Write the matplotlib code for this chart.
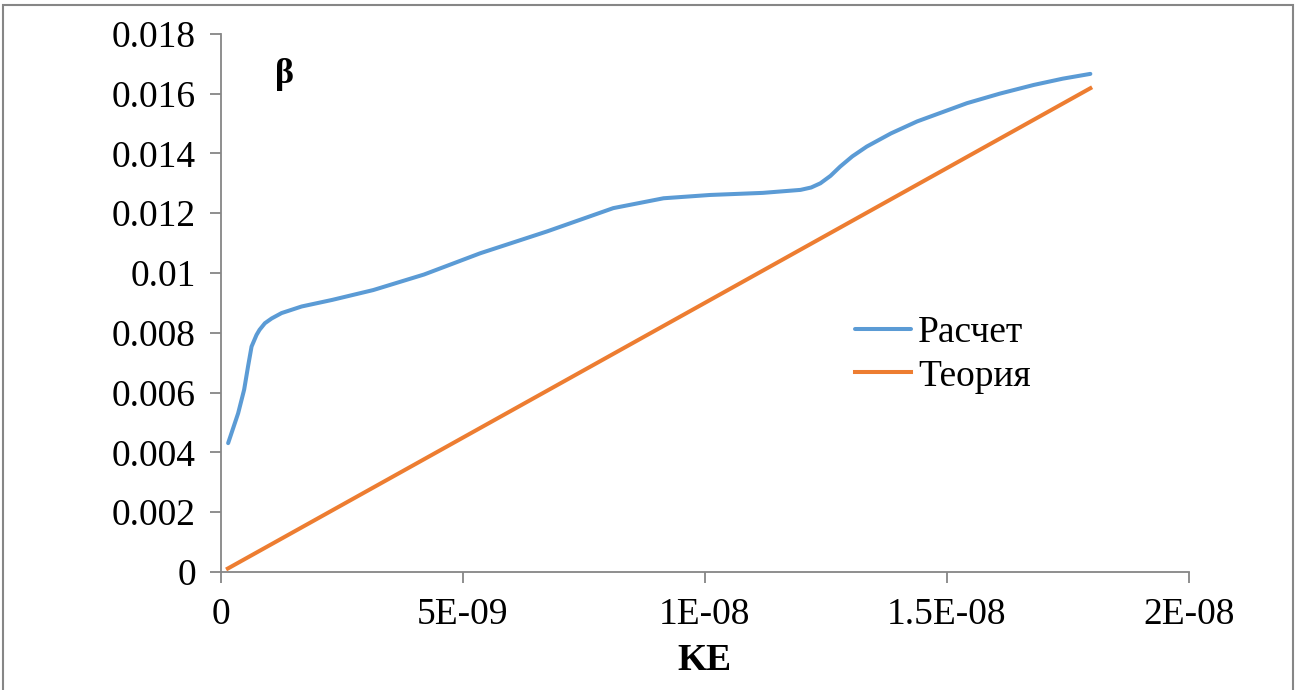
"""Recreate beta vs KE chart (calculation vs theory)."""

import matplotlib
matplotlib.use('Agg')
import matplotlib.pyplot as plt
from matplotlib.patches import Rectangle

# data
ke_calc = [0.151e-9, 0.358e-9, 0.482e-9, 0.565e-9, 0.635e-9, 0.738e-9, 0.80e-9,
           0.91e-9, 1.05e-9, 1.255e-9, 1.669e-9, 2.3e-9, 3.15e-9, 4.2e-9,
           5.36e-9, 6.74e-9, 8.11e-9, 9.15e-9, 10.11e-9, 11.2e-9, 11.98e-9,
           12.2e-9, 12.39e-9, 12.6e-9, 12.8e-9, 13.05e-9, 13.35e-9, 13.85e-9,
           14.39e-9, 15.42e-9, 16.1e-9, 16.8e-9, 17.4e-9, 17.97e-9]
beta_calc = [0.00431, 0.00531, 0.00610, 0.00690, 0.00754, 0.00793, 0.00810,
             0.00832, 0.00848, 0.00866, 0.00888, 0.00910, 0.00943, 0.00995,
             0.01066, 0.01139, 0.01217, 0.0125, 0.01261, 0.01268, 0.01278,
             0.01286, 0.0130, 0.01325, 0.01356, 0.01390, 0.01423, 0.01467,
             0.01507, 0.01568, 0.01600, 0.01629, 0.01650, 0.01666]

ke_theory = [0.145e-9, 17.97e-9]
beta_theory = [0.000117, 0.01618]

x_ticks = [0, 5e-9, 1e-8, 1.5e-8, 2e-8]
x_tick_labels = ['0', '5E-09', '1E-08', '1.5E-08', '2E-08']
y_ticks = [0, 0.002, 0.004, 0.006, 0.008, 0.01, 0.012, 0.014, 0.016, 0.018]
y_tick_labels = ['0', '0.002', '0.004', '0.006', '0.008', '0.01', '0.012',
                 '0.014', '0.016', '0.018']

plt.rcParams['font.family'] = ['Liberation Serif', 'DejaVu Serif']

fig = plt.figure(figsize=(12.99, 6.90), dpi=100)
ax = fig.add_axes([0.170, 0.171, 0.745, 0.780])

ax.plot(ke_calc, beta_calc, color='#5B9BD5', linewidth=2.9, label='Расчет',
        solid_joinstyle='round', solid_capstyle='round')
ax.plot(ke_theory, beta_theory, color='#ED7D31', linewidth=2.9, label='Теория')

ax.set_xlim(0, 2e-8)
ax.set_ylim(0, 0.018)
ax.set_xticks(x_ticks)
ax.set_xticklabels(x_tick_labels)
ax.set_yticks(y_ticks)
ax.set_yticklabels(y_tick_labels)

for side in ['top', 'right']:
    ax.spines[side].set_visible(False)
for side in ['left', 'bottom']:
    ax.spines[side].set_color('#868686')
    ax.spines[side].set_linewidth(1.3)

ax.tick_params(axis='both', direction='out', length=8, width=1.3,
               color='#868686', labelsize=27, labelcolor='black')
ax.tick_params(axis='x', pad=10)
ax.tick_params(axis='y', pad=10)

ax.set_xlabel('KE', fontsize=27, fontweight='bold', labelpad=8)
ax.text(0.066, 0.925, 'β', transform=ax.transAxes, fontsize=26,
        fontweight='bold', ha='center', va='center')

ax.legend(loc='upper left', bbox_to_anchor=(0.62, 0.54), frameon=False,
          fontsize=27, handlelength=1.5, handletextpad=0.2, labelspacing=0.25)

fig.patches.append(Rectangle((3 / 1299, -0.01), 1290 / 1299, 1 - 5 / 690 + 0.01,
                             transform=fig.transFigure, fill=False,
                             edgecolor='#868686', linewidth=1.5))

fig.savefig('out.png', dpi=100)
